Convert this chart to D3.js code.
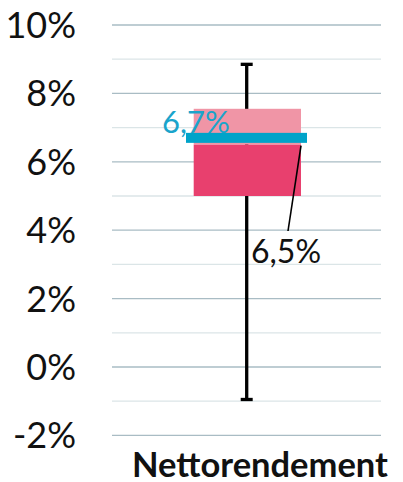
<!DOCTYPE html>
<html>
<head>
<meta charset="utf-8">
<script src="https://cdn.jsdelivr.net/npm/d3@7"></script>
<style>
  body { margin: 0; background: #fff; }
  text { font-family: Lato, "Open Sans", sans-serif; }
</style>
</head>
<body>
<svg id="chart" width="403" height="482"></svg>
<script>
// data
var category = "Nettorendement";
var whiskerLow = -0.95, whiskerHigh = 8.85;
var boxLow = 5.0, median = 6.5, boxHigh = 7.55;
var average = 6.7;
var majorTicks = [-2, 0, 2, 4, 6, 8, 10];
var minorTicks = [-1, 1, 3, 5, 7, 9];

var svg = d3.select("#chart");

var y = d3.scaleLinear().domain([-2, 10]).range([435.4, 25]);
var x = d3.scaleBand().domain([category]).range([112, 381]);

var fmt = function(v){ return String(v).replace(".", ",") + "%"; };

// grid
svg.append("g").selectAll("line.minor")
  .data(minorTicks).enter().append("line")
    .attr("x1", x.range()[0]).attr("x2", x.range()[1])
    .attr("y1", function(d){ return y(d) }).attr("y2", function(d){ return y(d) })
    .attr("stroke", "#dbe5e7").attr("stroke-width", 1.3);

svg.append("g").selectAll("line.major")
  .data(majorTicks).enter().append("line")
    .attr("x1", x.range()[0]).attr("x2", x.range()[1])
    .attr("y1", function(d){ return y(d) }).attr("y2", function(d){ return y(d) })
    .attr("stroke", "#a9bcc4").attr("stroke-width", 1.3);

// y axis labels
svg.append("g").selectAll("text")
  .data(majorTicks).enter().append("text")
    .attr("x", 76)
    .attr("y", function(d){ return y(d) + 13 })
    .attr("text-anchor", "end")
    .style("font-size", "36px")
    .attr("fill", "#111")
    .text(function(d){ return d + "%" });

var cx = 246.7;
var bx0 = 193.7, bx1 = 301;

// whisker
svg.append("line")
  .attr("x1", cx).attr("x2", cx)
  .attr("y1", y(whiskerHigh)).attr("y2", y(whiskerLow))
  .attr("stroke", "#000").attr("stroke-width", 3.3);
[whiskerHigh, whiskerLow].forEach(function(v){
  svg.append("line")
    .attr("x1", cx - 6).attr("x2", cx + 6)
    .attr("y1", y(v)).attr("y2", y(v))
    .attr("stroke", "#000").attr("stroke-width", 3.3);
});

// box
svg.append("rect")
  .attr("x", bx0).attr("width", bx1 - bx0)
  .attr("y", y(boxHigh)).attr("height", y(median) - y(boxHigh))
  .attr("fill", "#f095a6");
svg.append("rect")
  .attr("x", bx0).attr("width", bx1 - bx0)
  .attr("y", y(median)).attr("height", y(boxLow) - y(median))
  .attr("fill", "#e8406e");

// average label (behind bar)
svg.append("text")
  .attr("x", 162).attr("y", y(average) - 5)
  .style("font-size", "31px")
  .attr("fill", "#1aa4cb")
  .text(fmt(average));

// average bar
svg.append("rect")
  .attr("x", 186).attr("width", 307 - 186)
  .attr("y", y(average) - 5).attr("height", 10)
  .attr("fill", "#00a3c9");

// median leader + label
svg.append("line")
  .attr("x1", 301).attr("y1", y(median) + 1)
  .attr("x2", 288).attr("y2", 231)
  .attr("stroke", "#000").attr("stroke-width", 1.6);
svg.append("text")
  .attr("x", 251).attr("y", 263)
  .style("font-size", "32px")
  .attr("fill", "#111")
  .text(fmt(median));

// category label
svg.append("text")
  .attr("x", 260).attr("y", 476.5)
  .attr("text-anchor", "middle")
  .style("font-size", "34.5px")
  .style("font-weight", "bold")
  .attr("fill", "#111")
  .text(category);
</script>
</body>
</html>
